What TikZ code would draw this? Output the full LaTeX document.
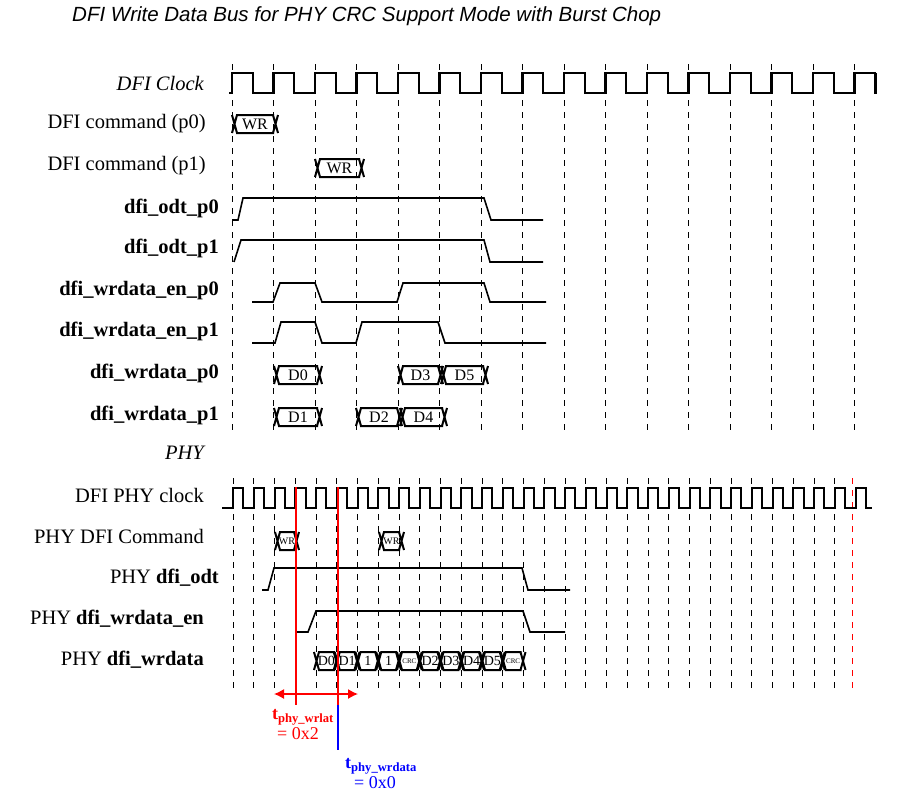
\documentclass[tikz,border=0pt]{standalone}
\usepackage{fontspec}
\usetikzlibrary{arrows.meta}
\setmainfont{Liberation Serif}
\newfontfamily\titlefont{Liberation Sans}
\begin{document}
\begin{tikzpicture}[x=1pt,y=-1pt,
  lbl/.style={anchor=east,inner sep=0pt,font=\fontsize{20.5}{22}\selectfont},
  blb/.style={anchor=east,inner sep=0pt,font=\bfseries\fontsize{20.5}{22}\selectfont},
  grid/.style={black,line width=0.6pt,dash pattern=on 6pt off 6pt},
  clk/.style={line width=2.4pt,line join=miter},
  sig/.style={line width=1.6pt},
  bus/.style={line width=2pt},
  blbl/.style={inner sep=0pt,font=\fontsize{16}{16}\selectfont},
  slbl/.style={inner sep=0pt,font=\fontsize{7}{7}\selectfont}]
\useasboundingbox (0,0) rectangle (907,803);
\node[anchor=west,inner sep=0pt,font=\titlefont\itshape\fontsize{20.5}{24}\selectfont] (title) at (72,16) {DFI Write Data Bus for PHY CRC Support Mode with Burst Chop};
% labels
\node[lbl,font=\itshape\fontsize{20.5}{22}\selectfont] (l1) at (204,83) {DFI Clock};
\node[lbl] (l2) at (206,124) {DFI command (p0)};
\node[lbl] (l3) at (206,166) {DFI command (p1)};
\node[blb] (l4) at (219,208) {dfi\_odt\_p0};
\node[blb] (l5) at (219,248) {dfi\_odt\_p1};
\node[blb] (l6) at (219,290) {dfi\_wrdata\_en\_p0};
\node[blb] (l7) at (219,331) {dfi\_wrdata\_en\_p1};
\node[blb] (l8) at (219,373) {dfi\_wrdata\_p0};
\node[blb] (l9) at (219,415) {dfi\_wrdata\_p1};
\node[lbl,font=\itshape\fontsize{20.5}{22}\selectfont] (l10) at (204,453) {PHY};
\node[lbl] (l11) at (204,495) {DFI PHY clock};
\node[lbl] (l12) at (204,536) {PHY DFI Command};
\node[lbl] (l13) at (219,578) {PHY \textbf{dfi\_odt}};
\node[lbl] (l14) at (204,619) {PHY \textbf{dfi\_wrdata\_en}};
\node[lbl] (l15) at (204,660) {PHY \textbf{dfi\_wrdata}};
% grids
\foreach \k in {0,...,15} \draw[grid] ({232+41.5*\k},64) -- ({232+41.5*\k},432);
\foreach \k in {0,...,29} \draw[grid] ({233+20.75*\k},478) -- ({233+20.75*\k},690);
\draw[red,line width=0.8pt,dash pattern=on 6pt off 6pt] (852,478) -- (852,690);
% DFI clock
\draw[clk] (229,93) \foreach \k in {0,...,15} {-- ({232+41.5*\k},93) -- ({232+41.5*\k},73) -- ({252.75+41.5*\k},73) -- ({252.75+41.5*\k},93)} -- (876,93) -- (876,73);
% PHY clock
\draw[clk,line width=2pt] (222,508) \foreach \k in {0,...,30} {-- ({233+20.75*\k},508) -- ({233+20.75*\k},488) -- ({243.4+20.75*\k},488) -- ({243.4+20.75*\k},508)} -- (872,508);
% bus box macro
\newcommand{\busbox}[5]{% x0,x1,yc,label,style
  \draw[bus] ({#1-2},{#3-9}) -- ({#1+3},{#3+9}) ({#1-2},{#3+9}) -- ({#1+3},{#3-9})
    ({#1+2},{#3-9}) -- ({#2-2},{#3-9}) ({#1+2},{#3+9}) -- ({#2-2},{#3+9})
    ({#2-3},{#3-9}) -- ({#2+2},{#3+9}) ({#2-3},{#3+9}) -- ({#2+2},{#3-9});
  \node[#5] at ({(#1+#2)/2},#3) {#4};}
\busbox{234}{276}{124}{WR}{blbl}
\busbox{317}{362}{168}{WR}{blbl}
\busbox{276}{320}{375}{D0}{blbl}
\busbox{400}{441}{375}{D3}{blbl}
\busbox{443}{486}{375}{D5}{blbl}
\busbox{276}{320}{417}{D1}{blbl}
\busbox{358}{400}{417}{D2}{blbl}
\busbox{402}{445}{417}{D4}{blbl}
\busbox{277}{297}{541}{WR}{font=\fontsize{10}{10}\selectfont,inner sep=0pt}
\busbox{381}{402}{541}{WR}{font=\fontsize{10}{10}\selectfont,inner sep=0pt}
\foreach \t [count=\i from 0] in {D0,D1,1,1,CRC,D2,D3,D4,D5,CRC}{
  \ifnum\i=4 \busbox{316+20.75*\i}{336.75+20.75*\i}{661}{\t}{slbl}
  \else\ifnum\i=9 \busbox{316+20.75*\i}{336.75+20.75*\i}{661}{\t}{slbl}
  \else \busbox{316+20.75*\i}{336.75+20.75*\i}{661}{\t}{font=\fontsize{14}{14}\selectfont,inner sep=0pt}\fi\fi}
% waveforms
\draw[sig] (232,220) -- (238,220) -- (243,198) -- (484,198) -- (491,220) -- (543,220);
\draw[sig] (234,262) -- (241,240) -- (484,240) -- (490,262) -- (543,262);
\draw[sig] (252,302) -- (273,302) -- (280,283) -- (315,283) -- (322,302) -- (397,302) -- (403,283) -- (484,283) -- (490,302) -- (546,302);
\draw[sig] (252,343) -- (275,343) -- (281,322) -- (315,322) -- (322,343) -- (356,343) -- (362,322) -- (438,322) -- (445,343) -- (546,343);
\draw[sig] (262,590) -- (268,590) -- (274,568) -- (522,568) -- (528,590) -- (570,590);
\draw[sig] (295,632) -- (308,632) -- (316,611) -- (523,611) -- (530,632) -- (565,632);
% timing annotations
\coordinate (a1) at (296,487); \coordinate (a2) at (296,705);
\coordinate (b1) at (338,487); \coordinate (b2) at (338,705); \coordinate (b3) at (338,750);
\draw[red,line width=1.3pt] (a1) -- (a2);
\draw[red,line width=1.3pt] (b1) -- (b2);
\draw[blue,line width=1.3pt] (b2) -- (b3);
\coordinate (r1) at (274,694); \coordinate (r2) at (358,694);
\draw[red,line width=1.3pt,{Latex[length=10pt,width=10pt]}-{Latex[length=10pt,width=10pt]}] (r1) -- (r2);
\node[red,inner sep=0pt,font=\bfseries\fontsize{18}{18}\selectfont] (tw) at (303,717) {t\textsubscript{phy\_wrlat}};
\node[red,inner sep=0pt,font=\fontsize{18}{18}\selectfont] (tw2) at (298,734) {= 0x2};
\node[blue,inner sep=0pt,font=\bfseries\fontsize{18}{18}\selectfont] (td) at (381,766) {t\textsubscript{phy\_wrdata}};
\node[blue,inner sep=0pt,font=\fontsize{18}{18}\selectfont] (td2) at (375,783) {= 0x0};
\end{tikzpicture}
\end{document}
